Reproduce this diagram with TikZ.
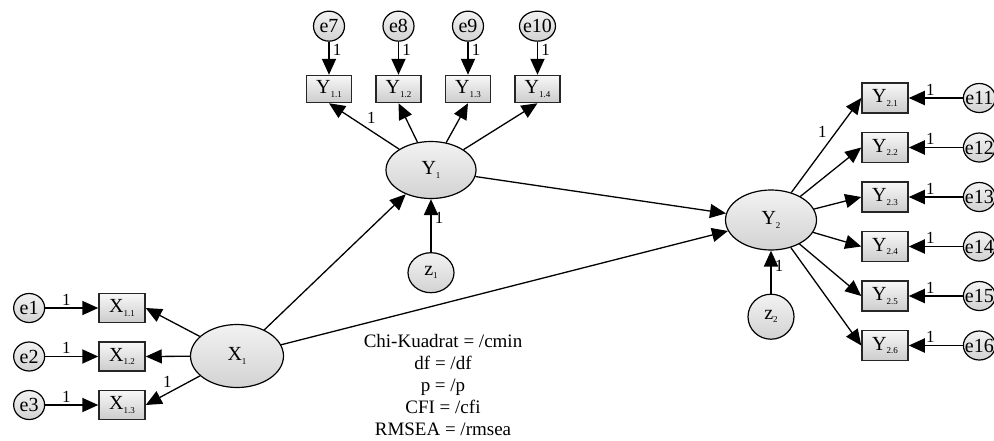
\documentclass[tikz,border=0pt]{standalone}
\usepackage{fontspec}
\setmainfont{Liberation Serif}
\usetikzlibrary{positioning, calc, shapes, arrows.meta}

\newcommand{\ix}[1]{\raisebox{-0.35ex}{\fontsize{9}{9}\selectfont #1}}

\tikzset{
	obs/.style={rectangle, draw=black!85, line width=1.5pt, top color=gray!6, bottom color=gray!40, inner sep=0pt, font=\fontsize{20}{20}\selectfont},
	lat/.style={ellipse, draw, line width=1.2pt, top color=gray!10, bottom color=gray!35, inner sep=0pt, font=\fontsize{20}{20}\selectfont},
	err/.style={ellipse, draw, line width=1.2pt, top color=gray!10, bottom color=gray!35, minimum width=31pt, minimum height=29pt, inner sep=-4pt, font=\fontsize{20}{20}\selectfont},
	arr/.style={-{Triangle[length=16pt, width=14pt]}, line width=1.3pt},
	fix/.style={-{Triangle[length=16pt, width=14pt]}, line width=1.9pt},
	coef/.style={font=\fontsize{17}{17}\selectfont, inner sep=1pt}
}

\begin{document}
\begin{tikzpicture}[x=1pt, y=-1pt]
	\useasboundingbox (0,0) rectangle (994,440);
	\node[lat, minimum width=93pt, minimum height=63pt] (X1) at (237,356) {X\ix{1}};
	\node[lat, minimum width=90pt, minimum height=57pt] (Y1) at (431,170) {Y\ix{1}};
	\node[lat, minimum width=91pt, minimum height=60pt] (Y2) at (771,220) {Y\ix{2}};
	\node[err, minimum width=46pt, minimum height=40pt, below=53pt of Y1] (z1) {z\ix{1}};
	\node[err, minimum width=46pt, minimum height=45pt, below=43pt of Y2] (z2) {z\ix{2}};

	\node[obs, minimum width=46pt, minimum height=29pt] (X11) at (122,308) {X\ix{1.1}};
	\node[obs, minimum width=46pt, minimum height=29pt, below=18pt of X11] (X12) {X\ix{1.2}};
	\node[obs, minimum width=46pt, minimum height=29pt, below=18pt of X12] (X13) {X\ix{1.3}};
	\node[err, left=53pt of X11] (e1) {e1};
	\node[err, left=53pt of X12] (e2) {e2};
	\node[err, left=53pt of X13] (e3) {e3};

	\node[obs, minimum width=45pt, minimum height=27pt] (Y11) at (329,89) {Y\ix{1.1}};
	\node[obs, minimum width=45pt, minimum height=27pt, right=23pt of Y11] (Y12) {Y\ix{1.2}};
	\node[obs, minimum width=45pt, minimum height=27pt, right=23pt of Y12] (Y13) {Y\ix{1.3}};
	\node[obs, minimum width=45pt, minimum height=27pt, right=23pt of Y13] (Y14) {Y\ix{1.4}};
	\node[err, minimum height=30pt, above=33pt of Y11] (e7) {e7};
	\node[err, minimum height=30pt, above=33pt of Y12] (e8) {e8};
	\node[err, minimum height=30pt, above=33pt of Y13] (e9) {e9};
	\node[err, minimum width=36pt, minimum height=30pt, above=33pt of Y14] (e10) {e10};

	\node[obs, minimum width=46pt, minimum height=30pt] (Y21) at (885,98) {Y\ix{2.1}};
	\node[obs, minimum width=46pt, minimum height=30pt, below=18pt of Y21] (Y22) {Y\ix{2.2}};
	\node[obs, minimum width=46pt, minimum height=30pt, below=18pt of Y22] (Y23) {Y\ix{2.3}};
	\node[obs, minimum width=46pt, minimum height=30pt, below=18pt of Y23] (Y24) {Y\ix{2.4}};
	\node[obs, minimum width=46pt, minimum height=30pt, below=18pt of Y24] (Y25) {Y\ix{2.5}};
	\node[obs, minimum width=46pt, minimum height=30pt, below=18pt of Y25] (Y26) {Y\ix{2.6}};
	\node[err, minimum width=32pt, right=54pt of Y21] (e11) {e11};
	\node[err, minimum width=32pt, right=54pt of Y22] (e12) {e12};
	\node[err, minimum width=32pt, right=54pt of Y23] (e13) {e13};
	\node[err, minimum width=32pt, right=54pt of Y24] (e14) {e14};
	\node[err, minimum width=32pt, right=54pt of Y25] (e15) {e15};
	\node[err, minimum width=32pt, right=54pt of Y26] (e16) {e16};

	\node[align=center, inner sep=0pt, font=\fontsize{19}{21.8}\selectfont] (stats) at (443,385) {Chi-Kuadrat = /cmin\\df = /df\\p = /p\\CFI = /cfi\\RMSEA = /rmsea};

	\draw[fix] (e1) -- node[coef, above=1pt, pos=0.4] {1} (X11);
	\draw[fix] (e2) -- node[coef, above=1pt, pos=0.4] {1} (X12);
	\draw[fix] (e3) -- node[coef, above=1pt, pos=0.4] {1} (X13);
	\draw[arr] (X1) -- (X11.east);
	\draw[arr] (X1) -- (X12.east);
	\draw[arr] (X1) -- node[coef, above=4pt, pos=0.6] {1} (X13.east);

	\draw[fix] (e7) -- node[coef, right=2pt, pos=0.25] {1} (Y11);
	\draw[fix] (e8) -- node[coef, right=2pt, pos=0.25] {1} (Y12);
	\draw[fix] (e9) -- node[coef, right=2pt, pos=0.25] {1} (Y13);
	\draw[fix] (e10) -- node[coef, right=2pt, pos=0.25] {1} (Y14);
	\draw[arr] (Y1) -- node[coef, above right=2pt, pos=0.5] {1} (Y11.south);
	\draw[arr] (Y1) -- (Y12.south);
	\draw[arr] (Y1) -- (Y13.south);
	\draw[arr] (Y1) -- (Y14.south);
	\draw[fix] (z1) -- node[coef, right=2pt, pos=0.65] {1} (Y1);

	\draw[arr] (X1) -- (Y1);
	\draw[arr] (X1) -- (Y2);
	\draw[arr] (Y1) -- (Y2);

	\draw[arr] (Y2) -- node[coef, above left=2pt, pos=0.55] {1} (Y21.west);
	\draw[arr] (Y2) -- (Y22.west);
	\draw[arr] (Y2) -- (Y23.west);
	\draw[arr] (Y2) -- (Y24.west);
	\draw[arr] (Y2) -- (Y25.west);
	\draw[arr] (Y2) -- (Y26.west);
	\draw[fix] (e11) -- node[coef, above=1pt, pos=0.6] {1} (Y21);
	\draw[fix] (e12) -- node[coef, above=1pt, pos=0.6] {1} (Y22);
	\draw[fix] (e13) -- node[coef, above=1pt, pos=0.6] {1} (Y23);
	\draw[fix] (e14) -- node[coef, above=1pt, pos=0.6] {1} (Y24);
	\draw[fix] (e15) -- node[coef, above=1pt, pos=0.6] {1} (Y25);
	\draw[fix] (e16) -- node[coef, above=1pt, pos=0.6] {1} (Y26);
	\draw[fix] (z2) -- node[coef, right=2pt, pos=0.65] {1} (Y2);
\end{tikzpicture}
\end{document}
